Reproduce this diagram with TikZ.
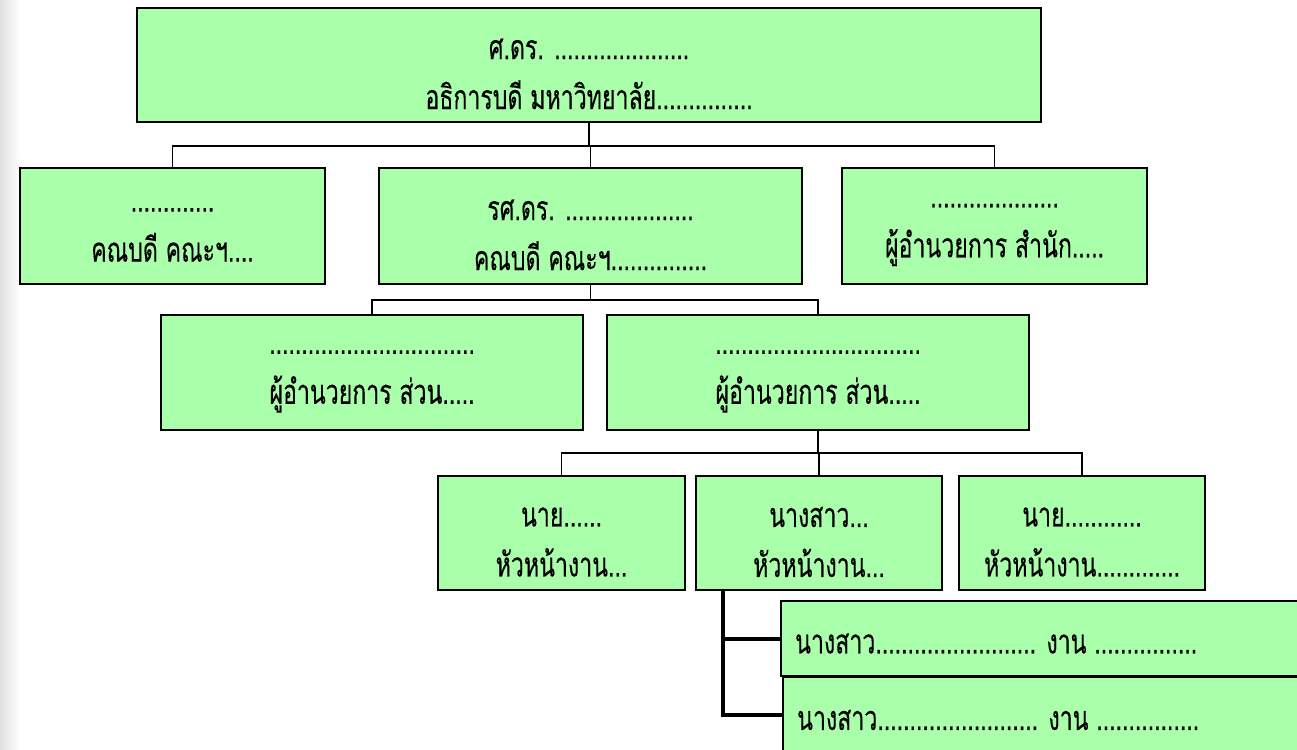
\documentclass[tikz,border=0pt]{standalone}
\usepackage{fontspec}
\newfontfamily\thaifont[Script=Thai,FakeStretch=0.68,FakeBold=0.3]{Loma}
\definecolor{boxgreen}{RGB}{170,255,170}
\tikzset{
  orgbox/.style={draw=black, fill=boxgreen, line width=1.5pt, inner sep=0pt},
  txt/.style={inner sep=0pt, align=center,
    font=\thaifont\fontsize{34}{50}\selectfont},
  ltxt/.style={txt, anchor=west},
  conn/.style={draw=black, line width=1.2pt},
  thickconn/.style={draw=black, line width=4pt},
}
\begin{document}
\begin{tikzpicture}[x=1pt,y=-1pt]
\useasboundingbox (0,0) rectangle (1297,749);
\clip (0,0) rectangle (1297,749);
\fill[white] (0,0) rectangle (1297,749);
\shade[left color=black!12, right color=white] (0,0) rectangle (20,749);
% boxes
\node[orgbox, minimum width=904, minimum height=114] (top) at (589,65) {};
\node[orgbox, minimum width=305, minimum height=116] (A) at (172.5,226) {};
\node[orgbox, minimum width=423, minimum height=116] (B) at (590.5,226) {};
\node[orgbox, minimum width=305, minimum height=116] (C) at (994.5,226) {};
\node[orgbox, minimum width=422, minimum height=115] (D) at (372,372.5) {};
\node[orgbox, minimum width=422, minimum height=115] (E) at (818,372.5) {};
\node[orgbox, minimum width=247, minimum height=114] (F) at (561.5,533) {};
\node[orgbox, minimum width=246, minimum height=114] (G) at (819,533) {};
\node[orgbox, minimum width=246, minimum height=114] (H) at (1082,533) {};
\node[orgbox, minimum width=560, minimum height=75, anchor=west] (I) at (780,638.5) {};
\node[orgbox, minimum width=560, minimum height=76, anchor=west] (J) at (782,715) {};
% texts
\node[txt] (topT) at ([yshift=-9pt]top.center) {ศ.ดร. .....................\\อธิการบดี มหาวิทยาลัย...............};
\node[txt] (AT) at ([yshift=-9pt]A.center) {.............\\คณบดี คณะฯ....};
\node[txt] (BT) at ([yshift=-9pt]B.center) {รศ.ดร. ....................\\คณบดี คณะฯ...............};
\node[txt] (CT) at ([yshift=-9pt]C.center) {....................\\ผู้อำนวยการ สำนัก.....};
\node[txt] (DT) at ([yshift=-9pt]D.center) {................................\\ผู้อำนวยการ ส่วน.....};
\node[txt] (ET) at ([yshift=-9pt]E.center) {................................\\ผู้อำนวยการ ส่วน.....};
\node[txt] (FT) at ([yshift=-9pt]F.center) {นาย......\\หัวหน้างาน...};
\node[txt] (GT) at ([yshift=-9pt]G.center) {นางสาว...\\หัวหน้างาน...};
\node[txt] (HT) at ([yshift=-9pt]H.center) {นาย............\\หัวหน้างาน.............};
\node[ltxt] (IT) at ([xshift=15pt,yshift=-5pt]I.west) {นางสาว......................... งาน ................};
\node[ltxt] (JT) at ([xshift=15pt,yshift=-5pt]J.west) {นางสาว......................... งาน ................};
% bus levels
\coordinate (bus1) at (0,146);
\coordinate (bus2) at (0,300);
\coordinate (bus3) at (0,453);
\coordinate (gs) at (723,590);
% connectors level 1
\draw[conn] (top.south) -- (top.south |- bus1);
\draw[conn] (A.north) -- (A.north |- bus1) -- (C.north |- bus1) -- (C.north);
\draw[conn] (B.north) -- (B.north |- bus1);
% level 2
\draw[conn] (B.south) -- (B.south |- bus2);
\draw[conn] (D.north) -- (D.north |- bus2) -- (E.north |- bus2) -- (E.north);
% level 3
\draw[conn] (E.south) -- (E.south |- bus3);
\draw[conn] (F.north) -- (F.north |- bus3) -- (H.north |- bus3) -- (H.north);
\draw[conn] (G.north) -- (G.north |- bus3);
% thick
\draw[thickconn] (gs) -- (gs |- J.west) -- (J.west);
\draw[thickconn] (gs |- I.west) -- (I.west);
\end{tikzpicture}
\end{document}
